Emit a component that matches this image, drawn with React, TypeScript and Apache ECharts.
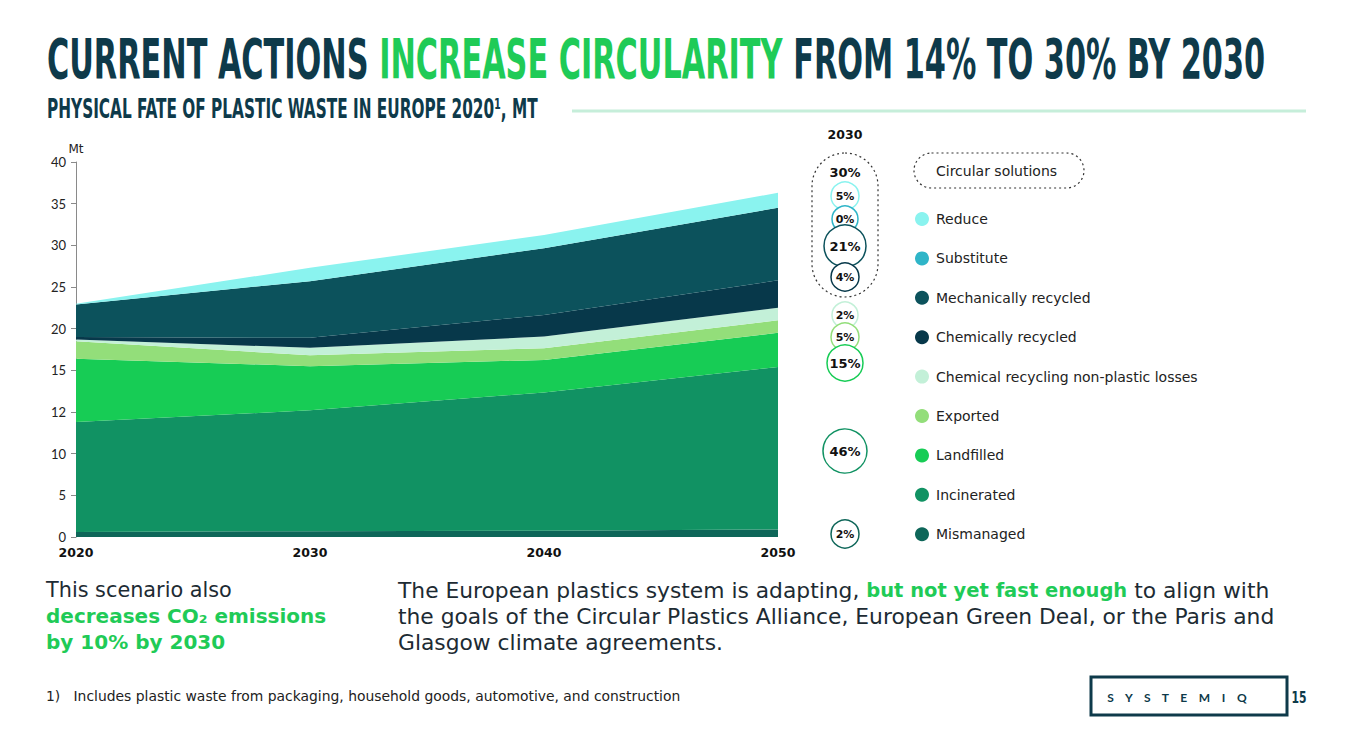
import React, { useEffect, useRef } from "react";
import * as echarts from "echarts";

const years = ["2020", "2030", "2040", "2050"];
const yTickLabels = ["0", "5", "10", "12", "15", "20", "25", "30", "35", "40"];

const mismanaged = [0.6, 0.7, 0.75, 0.9];
const incinerated = [13.2, 14.5, 16.6, 19.5];
const landfilled = [7.6, 5.3, 3.9, 4.1];
const exported = [2.1, 1.3, 1.4, 1.5];
const chemLosses = [0.2, 0.9, 1.4, 1.5];
const chemRecycled = [0.3, 1.2, 2.6, 3.3];
const mechRecycled = [3.9, 6.8, 8.0, 8.7];
const substitute = [0, 0, 0, 0];
const reduce = [0.1, 1.6, 1.6, 1.8];

const seriesNames = [
  "Mismanaged",
  "Incinerated",
  "Landfilled",
  "Exported",
  "Chemical recycling non-plastic losses",
  "Chemically recycled",
  "Mechanically recycled",
  "Substitute",
  "Reduce",
];
const seriesValues = [
  mismanaged,
  incinerated,
  landfilled,
  exported,
  chemLosses,
  chemRecycled,
  mechRecycled,
  substitute,
  reduce,
];
const seriesColors = [
  "#0E6659",
  "#119263",
  "#17CC55",
  "#93DE7A",
  "#C3F0D8",
  "#07384A",
  "#0C525C",
  "#2FB5C8",
  "#8AF3EF",
];

// 2030 shares (top to bottom, same order as legend)
const share2030Total = "30%";
const share2030Labels = ["5%", "0%", "21%", "4%", "2%", "5%", "15%", "46%", "2%"];

const NAVY = "#0E3A4A";
const GREEN = "#1FCB57";
const TEXT = "#1d2b33";
const BODY_FONT = "'DejaVu Sans', sans-serif";
const AXIS_FONT = "Lato, 'Open Sans', sans-serif";
const COND_FONT = "'DejaVu Sans Condensed', 'DejaVu Sans', sans-serif";

export default function App() {
  const ref = useRef<HTMLDivElement>(null);

  useEffect(() => {
    if (!ref.current) return;
    const chart = echarts.init(ref.current, undefined, { renderer: "svg" });

    const legendOrder = [...seriesNames].reverse();
    const legendColors = [...seriesColors].reverse();

    // bubble layout (visual only)
    const bubbleY = [196, 219, 246, 277, 315, 337, 363, 451, 534];
    const bubbleR = [14, 13, 21, 14, 13, 14, 18, 22, 14];
    const bubbleCX = 845;

    const bubbles: any[] = [];
    share2030Labels.forEach((lab, i) => {
      const big = lab.length > 2;
      bubbles.push({
        type: "circle",
        shape: { cx: bubbleCX, cy: bubbleY[i], r: bubbleR[i] },
        style: { fill: "#ffffff", stroke: legendColors[i], lineWidth: 1.5 },
        z: 10 + i,
      });
      bubbles.push({
        type: "text",
        x: bubbleCX,
        y: bubbleY[i],
        style: {
          text: lab,
          fill: "#111111",
          font: `bold ${big ? 13 : 11}px ${BODY_FONT}`,
          textAlign: "center",
          textVerticalAlign: "middle",
          align: "center",
          verticalAlign: "middle",
        },
        z: 30 + i,
      });
    });

    const option: any = {
      animation: false,
      grid: { left: 76, right: 575, top: 162, bottom: 216, containLabel: false },
      xAxis: {
        type: "category",
        data: years,
        boundaryGap: false,
        axisLine: { show: false },
        axisTick: { show: false },
        axisLabel: {
          color: "#111",
          fontWeight: "bold",
          fontSize: 12.5,
          fontFamily: BODY_FONT,
          margin: 9,
          showMinLabel: true,
          showMaxLabel: true,
        },
        splitLine: { show: false },
      },
      yAxis: {
        type: "value",
        min: 0,
        max: 45,
        interval: 5,
        name: "Mt",
        nameGap: 7,
        nameTextStyle: { color: "#222", fontSize: 12, fontFamily: BODY_FONT },
        axisLine: { show: true, lineStyle: { color: "#8a8a8a", width: 1 } },
        axisTick: { show: true, length: 5, lineStyle: { color: "#8a8a8a" } },
        axisLabel: {
          color: "#222",
          fontSize: 13,
          fontFamily: AXIS_FONT,
          margin: 10,
          formatter: (v: number) => yTickLabels[Math.round(v / 5)] ?? "",
        },
        splitLine: { show: false },
      },
      legend: {
        orient: "vertical",
        left: 915,
        top: 212,
        padding: 0,
        itemWidth: 14,
        itemHeight: 14,
        itemGap: 25.4,
        icon: "circle",
        data: legendOrder,
        selectedMode: false,
        textStyle: { color: "#222", fontSize: 14, fontFamily: BODY_FONT, padding: [0, 0, 0, 2] },
      },
      series: seriesNames.map((name, i) => ({
        name,
        type: "line",
        stack: "total",
        data: seriesValues[i],
        symbol: "none",
        showSymbol: false,
        lineStyle: { width: 0 },
        itemStyle: { color: seriesColors[i] },
        areaStyle: { color: seriesColors[i], opacity: 1 },
        z: 2,
      })),
      graphic: [
        {
          type: "text",
          x: 47,
          y: 59,
          scaleX: 0.602,
          style: {
            text: "{a|CURRENT ACTIONS }{b|INCREASE CIRCULARITY}{a| FROM 14% TO 30% BY 2030}",
            textAlign: "left",
            textVerticalAlign: "middle",
            align: "left",
            verticalAlign: "middle",
            rich: {
              a: { fill: NAVY, fontSize: 56, fontWeight: "bold", fontFamily: COND_FONT },
              b: { fill: GREEN, fontSize: 56, fontWeight: "bold", fontFamily: COND_FONT },
            },
          },
        },
        {
          type: "text",
          x: 47,
          y: 109,
          scaleX: 0.655,
          style: {
            text: "PHYSICAL FATE OF PLASTIC WASTE IN EUROPE 2020¹, MT",
            fill: NAVY,
            font: `bold 26px ${COND_FONT}`,
            textAlign: "left",
            textVerticalAlign: "middle",
            align: "left",
            verticalAlign: "middle",
          },
        },
        {
          type: "line",
          shape: { x1: 572, y1: 111, x2: 1306, y2: 111 },
          style: { stroke: "#C6EEDA", lineWidth: 3 },
        },
        {
          type: "text",
          x: 845,
          y: 134,
          style: {
            text: "2030",
            fill: "#111",
            font: `bold 12.5px ${BODY_FONT}`,
            textAlign: "center",
            textVerticalAlign: "middle",
            align: "center",
            verticalAlign: "middle",
          },
        },
        {
          type: "rect",
          shape: { x: 812, y: 153, width: 66, height: 144, r: 33 },
          style: { fill: "none", stroke: "#333", lineWidth: 1.2, lineDash: [2, 3] },
          z: 5,
        },
        {
          type: "text",
          x: 845,
          y: 172,
          style: {
            text: share2030Total,
            fill: "#111",
            font: `bold 13px ${BODY_FONT}`,
            textAlign: "center",
            textVerticalAlign: "middle",
            align: "center",
            verticalAlign: "middle",
          },
        },
        ...bubbles,
        {
          type: "rect",
          shape: { x: 914, y: 153, width: 170, height: 35, r: 17.5 },
          style: { fill: "none", stroke: "#333", lineWidth: 1.2, lineDash: [2, 3] },
        },
        {
          type: "text",
          x: 936,
          y: 170.5,
          style: {
            text: "Circular solutions",
            fill: "#222",
            font: `14px ${BODY_FONT}`,
            textAlign: "left",
            textVerticalAlign: "middle",
            align: "left",
            verticalAlign: "middle",
          },
        },
        {
          type: "text",
          x: 46,
          y: 577,
          style: {
            text: "{n|This scenario also}\n{g|decreases CO₂ emissions}\n{g|by 10% by 2030}",
            textAlign: "left",
            textVerticalAlign: "top",
            align: "left",
            verticalAlign: "top",
            rich: {
              n: { fill: TEXT, fontSize: 20.8, fontFamily: BODY_FONT, lineHeight: 26 },
              g: { fill: GREEN, fontSize: 20, fontWeight: "bold", fontFamily: BODY_FONT, lineHeight: 26 },
            },
          },
        },
        {
          type: "text",
          x: 398,
          y: 577,
          style: {
            text:
              "{n|The European plastics system is adapting, }{g|but not yet fast enough}{n| to align with}\n" +
              "{n|the goals of the Circular Plastics Alliance, European Green Deal, or the Paris and}\n" +
              "{n|Glasgow climate agreements.}",
            textAlign: "left",
            textVerticalAlign: "top",
            align: "left",
            verticalAlign: "top",
            rich: {
              n: { fill: TEXT, fontSize: 21.8, fontFamily: BODY_FONT, lineHeight: 26 },
              g: { fill: GREEN, fontSize: 19.5, fontWeight: "bold", fontFamily: BODY_FONT, lineHeight: 26 },
            },
          },
        },
        {
          type: "text",
          x: 46,
          y: 696,
          style: {
            text: "1)   Includes plastic waste from packaging, household goods, automotive, and construction",
            fill: "#222",
            font: `13.9px ${BODY_FONT}`,
            textAlign: "left",
            textVerticalAlign: "middle",
            align: "left",
            verticalAlign: "middle",
          },
        },
        {
          type: "rect",
          shape: { x: 1091, y: 677, width: 196, height: 38 },
          style: { fill: "#fff", stroke: NAVY, lineWidth: 3 },
        },
        {
          type: "text",
          x: 1177,
          y: 697,
          style: {
            text: "S    Y    S    T    E    M    I    Q",
            fill: NAVY,
            font: `bold 12px ${AXIS_FONT}`,
            textAlign: "center",
            textVerticalAlign: "middle",
            align: "center",
            verticalAlign: "middle",
          },
        },
        {
          type: "text",
          x: 1299,
          y: 697,
          scaleX: 0.8,
          style: {
            text: "15",
            fill: NAVY,
            font: `bold 15px ${COND_FONT}`,
            textAlign: "center",
            textVerticalAlign: "middle",
            align: "center",
            verticalAlign: "middle",
          },
        },
      ],
    };

    chart.setOption(option);
    return () => chart.dispose();
  }, []);

  return (
    <div
      ref={ref}
      style={{ position: "absolute", left: 0, top: 0, width: 1353, height: 753, background: "#fff" }}
    />
  );
}
